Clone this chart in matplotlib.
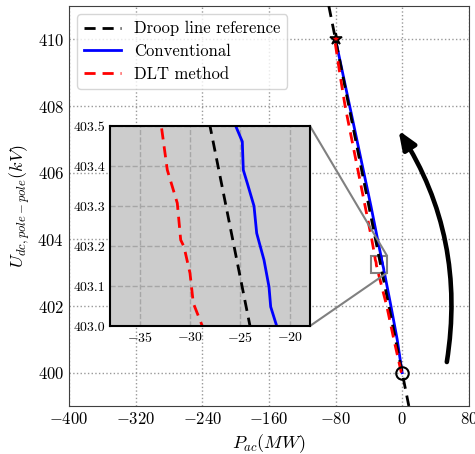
import matplotlib
matplotlib.use("Agg")
import matplotlib.pyplot as plt
import numpy as np
from matplotlib.patches import FancyArrowPatch
from mpl_toolkits.axes_grid1.inset_locator import mark_inset

plt.rcParams['font.family'] = 'serif'
plt.rcParams['font.serif'] = ['cmr10', 'DejaVu Serif']
plt.rcParams['mathtext.fontset'] = 'cm'
plt.rcParams['axes.formatter.use_mathtext'] = True
plt.rcParams['axes.unicode_minus'] = True

# Droop line reference
droop_P = [-88, 8]
droop_U = [411, 399]

# Conventional
conv_U = [400.0, 401.0, 402.0, 403.0, 403.048, 403.098, 403.165, 403.232, 403.3, 403.357,
          403.39, 403.461, 403.5, 404.0, 405.0, 406.0, 407.0, 408.0, 409.0, 410.0]
conv_P = [0.0, -6.0, -13.5, -21.33, -21.93, -22.1, -22.6, -23.33, -23.6, -24.27,
          -24.67, -24.77, -25.43, -29.5, -37.5, -46.0, -54.5, -63.0, -71.5, -80.0]

# DLT method
dlt_U = [400.0, 401.0, 402.0, 403.0, 403.057, 403.132, 403.198, 403.215, 403.307, 403.39,
         403.5, 404.0, 405.0, 406.0, 407.0, 408.0, 409.0, 410.0]
dlt_P = [-1.0, -10.0, -18.5, -28.77, -29.67, -30.0, -30.6, -30.93, -31.27, -32.27,
         -32.87, -36.5, -44.5, -52.5, -60.5, -68.5, -75.0, -81.0]

x_ticks = [-400, -320, -240, -160, -80, 0, 80]
y_ticks = [400, 402, 404, 406, 408, 410]
ins_x_ticks = [-35, -30, -25, -20]
ins_y_ticks = [403.0, 403.1, 403.2, 403.3, 403.4, 403.5]

fig = plt.figure(figsize=(4.75, 4.54), dpi=100)
ax = fig.add_axes([0.145, 0.1057, 0.842, 0.881])

ax.plot(droop_P, droop_U, color='black', lw=2, ls=(0, (4, 2.5)), label='Droop line reference', zorder=3)
ax.plot(conv_P, conv_U, color='blue', lw=2, label='Conventional', zorder=2)
ax.plot(dlt_P, dlt_U, color='red', lw=2, ls=(0, (4, 2.5)), label='DLT method', zorder=4)
ax.plot([-80], [410], marker='*', ms=9, mfc='red', mec='black', mew=1.2, zorder=5)
ax.plot([0], [400], marker='o', ms=9, mfc='none', mec='black', mew=1.5, zorder=5)

ax.set_xlim(-400, 80)
ax.set_ylim(399, 411)
ax.set_xticks(x_ticks)
ax.set_yticks(y_ticks)
ax.grid(True, ls=':', color='0.6', lw=1)
ax.tick_params(labelsize=12, direction='in', length=0)
ax.set_xlabel(r'$P_{ac}(MW)$', fontsize=13)
ax.set_ylabel(r'$U_{dc,pole-pole}(kV)$', fontsize=13)
for s in ax.spines.values():
    s.set_color('0.25')

arrow = FancyArrowPatch((53.6, 400.32), (-4.4, 407.27), connectionstyle='arc3,rad=0.19',
                        arrowstyle='-|>,head_length=0.55,head_width=0.22', mutation_scale=20,
                        lw=3.3, color='black', zorder=6, shrinkA=0, shrinkB=0)
ax.add_patch(arrow)

leg = ax.legend(loc='upper left', fontsize=12, framealpha=0.8, edgecolor='0.8',
                handlelength=2.2, borderaxespad=0.5, labelspacing=0.45)

axins = fig.add_axes([0.2316, 0.282, 0.421, 0.4405])
axins.set_facecolor('#cccccc')
axins.plot(droop_P, droop_U, color='black', lw=2, ls=(0, (4, 2.5)))
axins.plot(conv_P, conv_U, color='blue', lw=2)
axins.plot(dlt_P, dlt_U, color='red', lw=2, ls=(0, (4, 2.5)))
axins.set_xlim(-38, -18)
axins.set_ylim(403.0, 403.5)
axins.set_xticks(ins_x_ticks)
axins.set_yticks(ins_y_ticks)
axins.set_yticklabels(['%.1f' % v for v in ins_y_ticks])
axins.grid(True, ls='--', color='0.65', lw=1)
axins.tick_params(labelsize=10, direction='in', length=0)
for s in axins.spines.values():
    s.set_color('black')
    s.set_linewidth(1.5)

mark_inset(ax, axins, loc1=1, loc2=4, fc='none', ec='0.5', lw=1.5)

fig.savefig('out.png', dpi=100)
